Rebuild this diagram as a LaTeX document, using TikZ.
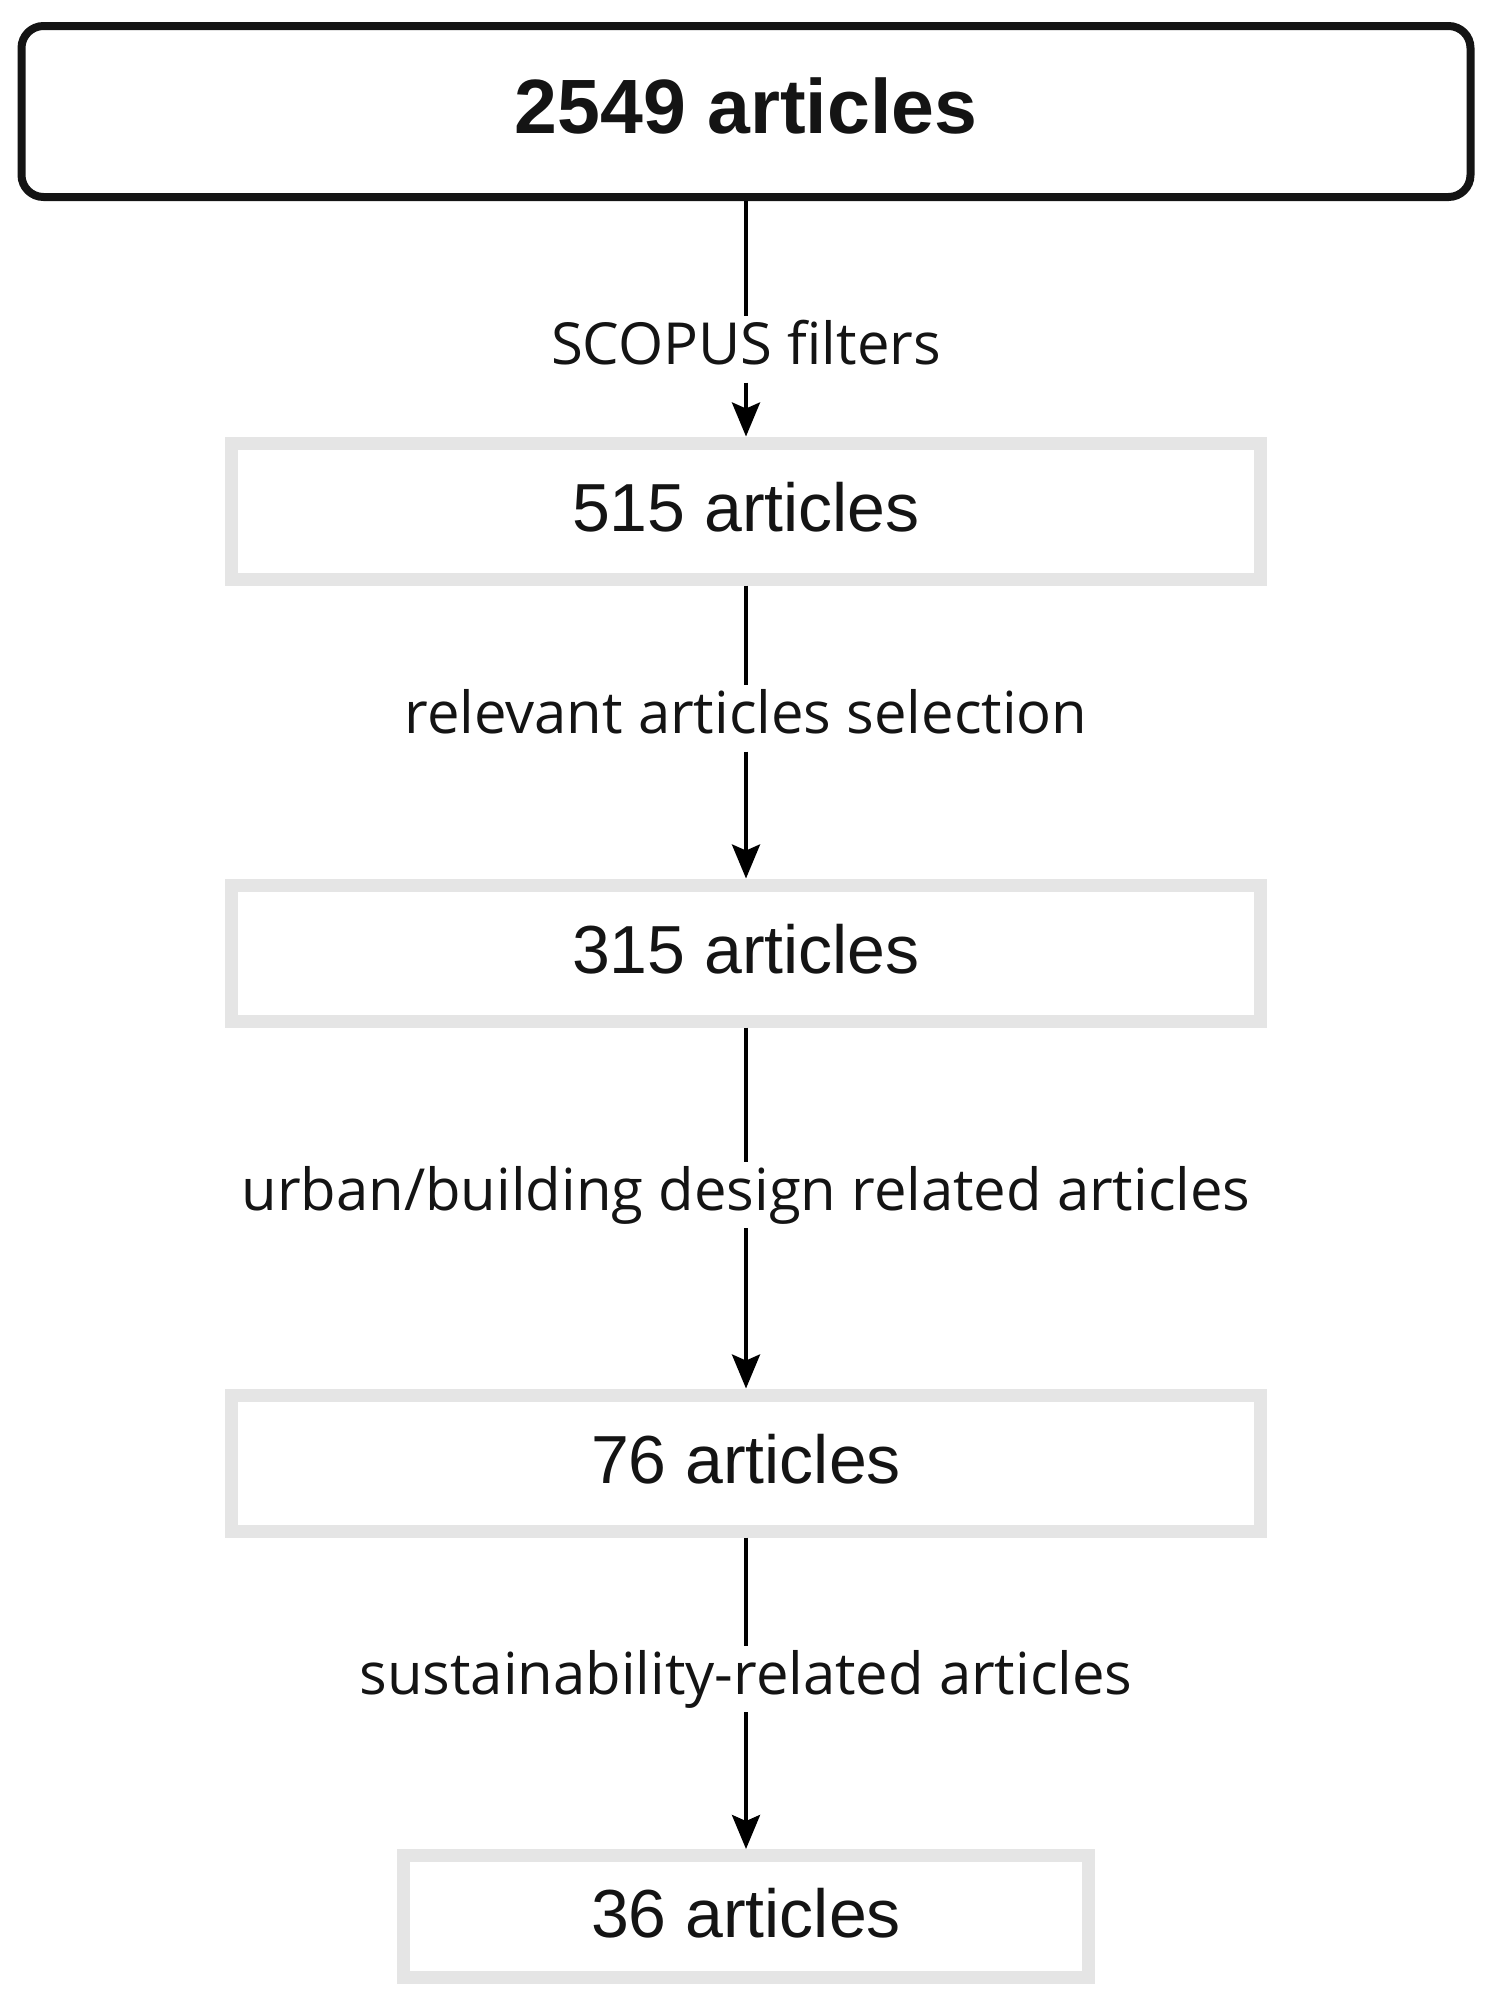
\documentclass[tikz,border=0pt]{standalone}
\usepackage{fontspec}
\setmainfont{Liberation Sans}
\newfontfamily\lblfont{Open Sans}
\usetikzlibrary{arrows.meta}
\definecolor{boxgray}{RGB}{229,229,229}
\definecolor{ink}{RGB}{20,20,20}
\begin{document}
\begin{tikzpicture}[x=1pt,y=-1pt,
  topbox/.style={draw=ink, line width=8pt, rounded corners=22pt, minimum width=1449pt, minimum height=171pt, inner sep=0pt, text depth=12pt, text=ink, font=\fontsize{77}{82}\selectfont\bfseries},
  graybox/.style={draw=boxgray, line width=13pt, minimum height=136pt, inner sep=0pt, text depth=8pt, text=ink, font=\fontsize{68}{74}\selectfont},
  lbl/.style={inner xsep=4pt, inner ysep=4pt, text height=44pt, text depth=14pt, text=ink, font=\lblfont\fontsize{58}{63}\selectfont},
  seg/.style={draw=black, line width=4pt},
  conn/.style={seg, -{Stealth[length=34pt,width=28pt,inset=6pt]}},
]
\useasboundingbox (0,0) rectangle (1495,2008);
\node[topbox] (n0) at (746,111.5) {2549 articles};
\node[graybox, minimum width=1029pt] (n1) at (746,511) {515 articles};
\node[graybox, minimum width=1029pt] (n2) at (746,953) {315 articles};
\node[graybox, minimum width=1029pt] (n3) at (746,1463) {76 articles};
\node[graybox, minimum width=685pt, minimum height=122pt] (n4) at (746,1916.5) {36 articles};
\node[lbl] (l1) at (746,349.5) {SCOPUS filters};
\node[lbl] (l2) at (746,718.5) {relevant articles selection};
\node[lbl] (l3) at (746,1195) {urban/building design related articles};
\node[lbl] (l4) at (746,1679) {sustainability-related articles};
\draw[seg] (n0.south) -- (l1.north);
\draw[conn] (l1.south) -- (n1.north);
\draw[seg] (n1.south) -- (l2.north);
\draw[conn] (l2.south) -- (n2.north);
\draw[seg] (n2.south) -- (l3.north);
\draw[conn] (l3.south) -- (n3.north);
\draw[seg] (n3.south) -- (l4.north);
\draw[conn] (l4.south) -- (n4.north);
\end{tikzpicture}
\end{document}
